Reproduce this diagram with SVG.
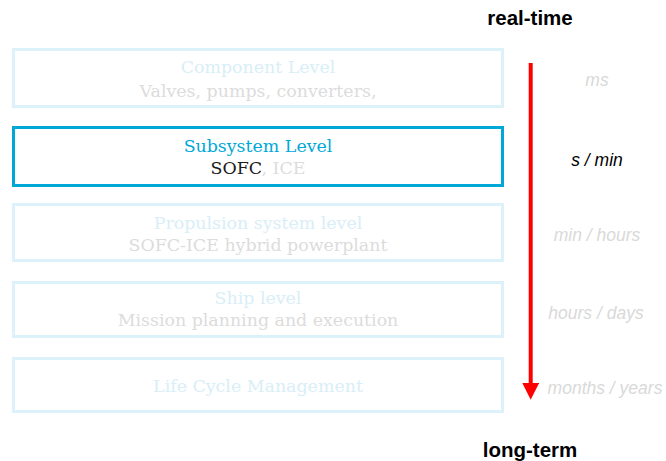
<svg xmlns="http://www.w3.org/2000/svg" width="666" height="461" viewBox="0 0 666 461">
<defs>
<style>
.box{fill:#fff;stroke:#dcf1f9;stroke-width:3}
.sel{fill:#fff;stroke:#00a8d8;stroke-width:3}
.t{font-family:"DejaVu Serif","Liberation Serif",serif;font-size:17.4px;text-anchor:middle}
.lb{fill:#d8eef8}
.gr{fill:#dcdcdc}
.tm{font-family:"Liberation Sans",Arial,sans-serif;font-size:17.5px;font-style:italic;text-anchor:middle;fill:#d9d9d9}
.hd{font-family:"Liberation Sans",Arial,sans-serif;font-size:20.5px;font-weight:bold;text-anchor:middle;fill:#000}
</style>
<marker id="ah" viewBox="0 0 10 10" refX="0" refY="5" markerWidth="4.5" markerHeight="4.2" markerUnits="strokeWidth" orient="auto">
<path d="M0,0 L10,5 L0,10 Z" fill="#ff0000"/>
</marker>
</defs>
<rect width="666" height="461" fill="#fff"/>
<g id="component">
<rect class="box" x="13.5" y="49.5" width="489" height="57"/>
<text class="t lb" x="258" y="73">Component Level</text>
<text class="t gr" x="258" y="97">Valves, pumps, converters,</text>
</g>
<g id="subsystem">
<rect class="sel" x="13.5" y="127.5" width="489" height="58"/>
<text class="t" x="258" y="152" fill="#00a8d8">Subsystem Level</text>
<text class="t" x="258" y="174"><tspan fill="#1a1a1a">SOFC</tspan><tspan fill="#dcdcdc">, ICE</tspan></text>
</g>
<g id="propulsion">
<rect class="box" x="13.5" y="204.5" width="489" height="56"/>
<text class="t lb" x="258" y="229">Propulsion system level</text>
<text class="t gr" x="258" y="251">SOFC-ICE hybrid powerplant</text>
</g>
<g id="ship">
<rect class="box" x="13.5" y="282.5" width="489" height="54"/>
<text class="t lb" x="258" y="304">Ship level</text>
<text class="t gr" x="258" y="326">Mission planning and execution</text>
</g>
<g id="lcm">
<rect class="box" x="13.5" y="358.5" width="489" height="53"/>
<text class="t lb" x="258" y="392">Life Cycle Management</text>
</g>
<g id="connectors">
<line x1="530.7" y1="63" x2="530.7" y2="383" stroke="#ff0000" stroke-width="4" marker-end="url(#ah)"/>
</g>
<g id="timescale">
<text class="hd" x="530" y="25">real-time</text>
<text class="hd" x="530" y="457">long-term</text>
<text class="tm" x="597" y="86">ms</text>
<text class="tm" x="597" y="166" style="fill:#000">s / min</text>
<text class="tm" x="597" y="241">min / hours</text>
<text class="tm" x="596" y="319">hours / days</text>
<text class="tm" x="605" y="394">months / years</text>
</g>
</svg>
